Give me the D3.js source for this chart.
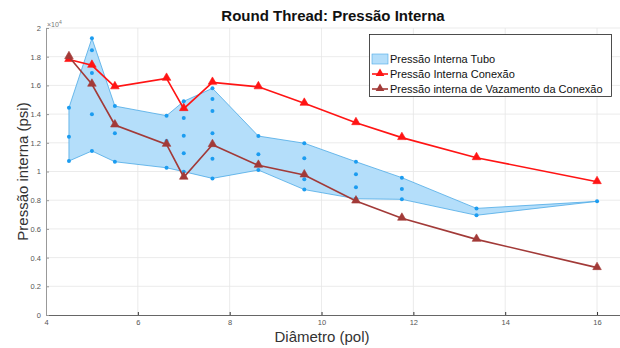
<!DOCTYPE html>
<html>
<head>
<meta charset="utf-8">
<script src="https://cdn.jsdelivr.net/npm/d3@7"></script>
<style>
  body { margin: 0; background: #fff; }
  text { font-family: "Liberation Sans", Arial, sans-serif; }
</style>
</head>
<body>
<div id="chart"></div>
<script>
// Data (psi)
const diameters = [4.5, 5, 5.5, 6.625, 7, 7.625, 8.625, 9.625, 10.75, 11.75, 13.375, 16];
const tubo = [
  [14450, 12430, 10730],
  [19280, 18450, 16860, 13990, 11430],
  [14560, 12660, 10680],
  [13890, 12130, 10260],
  [14890, 13720, 12500, 11270, 9990],
  [15800, 15050, 14220, 12660, 10880, 9520],
  [12470, 11200, 10100],
  [11970, 10920, 9460, 8740],
  [10680, 9800, 8900, 8100],
  [9570, 8780, 8060],
  [7430, 6950],
  [7920],
];
const conexao = [17800, 17400, 15900, 16490, 14380, 16210, 15900, 14750, 13400, 12360, 10960, 9290];
const vazamento = [18000, 16080, 13240, 11890, 9600, 11870, 10430, 9760, 7940, 6740, 5270, 3300];
const xTicks = [4, 6, 8, 10, 12, 14, 16];
const yTicks = [0, 2000, 4000, 6000, 8000, 10000, 12000, 14000, 16000, 18000, 20000];
const legendLabels = ["Pressão Interna Tubo", "Pressão Interna Conexão", "Pressão interna de Vazamento da Conexão"];

// Dimensions
const dimensions = { width: 620, height: 348, left: 46, top: 28, right: 620, bottom: 315 };

const colors = {
  fill: "#b4defa",
  edge: "#4ba9e6",
  dot: "#1b9cf0",
  red: "#ff1414",
  brown: "#a23a38",
  grid: "#e6e6e6",
  tick: "#555",
};

const svg = d3
  .select("#chart")
  .append("svg")
  .attr("width", dimensions.width)
  .attr("height", dimensions.height);

const xScale = d3.scaleLinear().domain([4, 16.5]).range([dimensions.left, dimensions.right]);
const yScale = d3.scaleLinear().domain([0, 20000]).range([dimensions.bottom, dimensions.top]);

// Grid
svg.append("g")
  .selectAll("line")
  .data(xTicks.slice(1))
  .join("line")
  .attr("x1", (d) => xScale(d)).attr("x2", (d) => xScale(d))
  .attr("y1", dimensions.top).attr("y2", dimensions.bottom)
  .attr("stroke", colors.grid).attr("stroke-width", 0.8);

svg.append("g")
  .selectAll("line")
  .data(yTicks.slice(1))
  .join("line")
  .attr("x1", dimensions.left).attr("x2", dimensions.right)
  .attr("y1", (d) => yScale(d)).attr("y2", (d) => yScale(d))
  .attr("stroke", colors.grid).attr("stroke-width", 0.8);

// Band (max/min of tube points)
const upper = diameters.map((d, i) => [d, d3.max(tubo[i])]);
const lower = diameters.map((d, i) => [d, d3.min(tubo[i])]).reverse();
const band = upper.concat(lower);
const bandLine = d3.line().x((d) => xScale(d[0])).y((d) => yScale(d[1]));

svg.append("path")
  .attr("d", bandLine(band) + "Z")
  .attr("fill", colors.fill)
  .attr("stroke", colors.edge)
  .attr("stroke-width", 0.8)
  .attr("stroke-linejoin", "round");

// Axes
const bottomAxis = d3.axisBottom(xScale).tickValues(xTicks).tickSize(-3).tickPadding(5).tickFormat(d3.format("d"));
const xAxisGroup = svg.append("g")
  .attr("transform", `translate(0, ${dimensions.bottom})`)
  .call(bottomAxis);
xAxisGroup.select(".domain").attr("stroke", "#666");
xAxisGroup.selectAll(".tick line").attr("stroke", "#333");
xAxisGroup.selectAll("text").attr("fill", colors.tick).attr("font-size", 7.5);

const leftAxis = d3.axisLeft(yScale).tickValues(yTicks).tickSize(-3).tickPadding(5)
  .tickFormat((d) => d3.format("~g")(d / 10000));
const yAxisGroup = svg.append("g")
  .attr("transform", `translate(${dimensions.left}, 0)`)
  .call(leftAxis);
yAxisGroup.select(".domain").attr("stroke", "#999");
yAxisGroup.selectAll(".tick line").attr("stroke", "#999");
yAxisGroup.selectAll("text").attr("fill", colors.tick).attr("font-size", 7.5);

// x10^4 exponent
const expo = svg.append("text")
  .attr("x", dimensions.left + 1).attr("y", dimensions.top - 1)
  .attr("fill", "#777").attr("font-size", 7);
expo.append("tspan").text("×10");
expo.append("tspan").attr("dy", -3).attr("font-size", 5).text("4");

// Tube points
const dots = diameters.flatMap((d, i) => tubo[i].map((v) => [d, v]));
svg.append("g")
  .selectAll("circle")
  .data(dots)
  .join("circle")
  .attr("cx", (d) => xScale(d[0]))
  .attr("cy", (d) => yScale(d[1]))
  .attr("r", 2)
  .attr("fill", colors.dot);

// Lines with triangle markers
const tri = d3.symbol().type(d3.symbolTriangle).size(32);

function drawSeries(values, color) {
  const pts = diameters.map((d, i) => [d, values[i]]);
  svg.append("path")
    .datum(pts)
    .attr("d", d3.line().x((d) => xScale(d[0])).y((d) => yScale(d[1])))
    .attr("fill", "none")
    .attr("stroke", color)
    .attr("stroke-width", 1.6);
  svg.append("g")
    .selectAll("path")
    .data(pts)
    .join("path")
    .attr("d", tri)
    .attr("transform", (d) => `translate(${xScale(d[0])}, ${yScale(d[1]) - 0.5})`)
    .attr("fill", color)
    .attr("stroke", color)
    .attr("stroke-width", 0.6);
}
drawSeries(conexao, colors.red);
drawSeries(vazamento, colors.brown);

// Title & labels
svg.append("text")
  .attr("x", (dimensions.left + dimensions.right) / 2).attr("y", 21)
  .attr("text-anchor", "middle")
  .attr("font-size", 15).attr("font-weight", "bold").attr("fill", "#111")
  .text("Round Thread: Pressão Interna");

svg.append("text")
  .attr("x", 322).attr("y", 342)
  .attr("text-anchor", "middle")
  .attr("font-size", 15).attr("fill", "#333")
  .text("Diâmetro (pol)");

svg.append("text")
  .attr("transform", `translate(28, ${(dimensions.top + dimensions.bottom) / 2}) rotate(-90)`)
  .attr("text-anchor", "middle")
  .attr("font-size", 15).attr("fill", "#333")
  .text("Pressão interna (psi)");

// Legend
const legend = svg.append("g");
legend.append("rect")
  .attr("x", 369.5).attr("y", 34.5).attr("width", 242).attr("height", 62)
  .attr("fill", "#fff").attr("stroke", "#222").attr("stroke-width", 0.8);

const rowY = [59, 74, 89];
legend.append("rect")
  .attr("x", 372).attr("y", rowY[0] - 5).attr("width", 16).attr("height", 10)
  .attr("fill", colors.fill).attr("stroke", colors.edge).attr("stroke-width", 0.6);

[colors.red, colors.brown].forEach((c, i) => {
  const y = rowY[i + 1];
  legend.append("line")
    .attr("x1", 372).attr("x2", 388).attr("y1", y).attr("y2", y)
    .attr("stroke", c).attr("stroke-width", 1.6);
  legend.append("path")
    .attr("d", tri)
    .attr("transform", `translate(380, ${y - 0.5})`)
    .attr("fill", c);
});

legend.selectAll("text")
  .data(legendLabels)
  .join("text")
  .attr("x", 390)
  .attr("y", (d, i) => rowY[i] + 4)
  .attr("font-size", 11)
  .attr("fill", "#111")
  .text((d) => d);
</script>
</body>
</html>
